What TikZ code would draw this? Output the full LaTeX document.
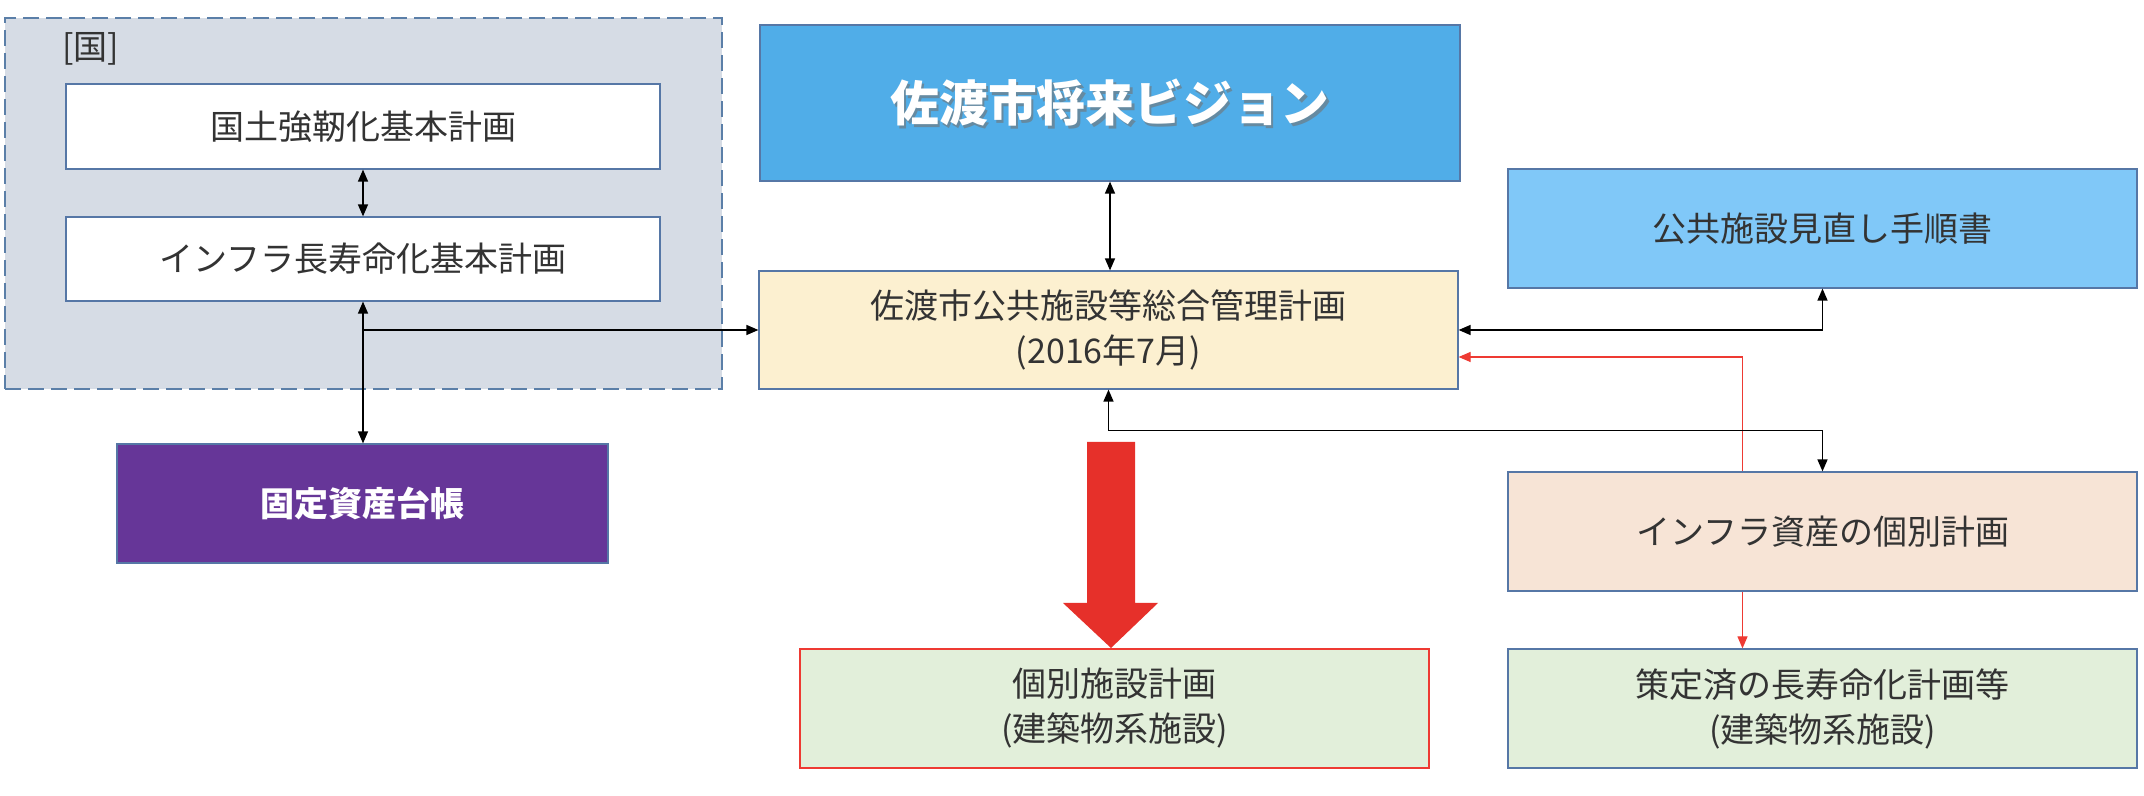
\documentclass[tikz,border=0pt]{standalone}
\usepackage{fontspec}
\newfontfamily\jp{Noto Sans CJK JP}
\usetikzlibrary{arrows.meta,calc}
\definecolor{grpfill}{HTML}{D6DCE5}
\definecolor{grpline}{HTML}{5B7FA8}
\definecolor{boxline}{HTML}{5677A6}
\definecolor{txt}{HTML}{333333}
\definecolor{visionfill}{HTML}{50ADE8}
\definecolor{planfill}{HTML}{FCF0D0}
\definecolor{tejunfill}{HTML}{80C8F8}
\definecolor{infrafill}{HTML}{F7E4D6}
\definecolor{greenfill}{HTML}{E2EFDA}
\definecolor{purplefill}{HTML}{663698}
\definecolor{bigred}{HTML}{E6302A}
\definecolor{thinred}{HTML}{EE3A33}
\begin{document}
\begin{tikzpicture}[x=0.5pt,y=-0.5pt,
  font=\jp\fontsize{17pt}{22.5pt}\selectfont,
  >={Triangle[length=6pt,width=5pt]},
  box/.style={draw=boxline, line width=0.6pt, inner sep=0pt, text=txt, align=center},
  widebox/.style={box, minimum width=314.5pt, minimum height=59.5pt},
  grpbox/.style={draw=grpline, fill=grpfill, line width=0.7pt, dash pattern=on 8pt off 3.5pt, inner sep=0pt},
  conn/.style={line width=0.7pt, draw=black, <->},
  conn1/.style={line width=0.7pt, draw=black, ->},
  redconn/.style={line width=0.6pt, draw=thinred, <->, >={Triangle[length=6pt,width=5pt]}},
]
\useasboundingbox (0,0) rectangle (2144,796);

% group [国]
\node[grpbox, minimum width=358.5pt, minimum height=185.5pt] (grp) at (363.5,203.5) {};
\node[anchor=west, text=txt, inner sep=0pt] (kuni) at (62,49) {[国]};
\node[box, fill=white, minimum width=297pt, minimum height=42.5pt] (box1) at (363,126.5) {国土強靭化基本計画};
\node[box, fill=white, minimum width=297pt, minimum height=42pt] (box2) at (363,259) {インフラ長寿命化基本計画};

% purple
\node[box, draw=boxline, fill=purplefill, text=white, font=\jp\bfseries\fontsize{17pt}{22.5pt}\selectfont,
      minimum width=245.5pt, minimum height=59.5pt] (daicho) at (362.5,503.5) {固定資産台帳};

% vision
\node[box, fill=visionfill, minimum width=350pt, minimum height=78pt] (vision) at (1110,103) {};
\node[text=black!55, opacity=0.6, font=\jp\bfseries\fontsize{24.4pt}{28pt}\selectfont] (vshadow) at ([shift={(1.2pt,-1.2pt)}]vision.center) {佐渡市将来ビジョン};
\node[text=white, font=\jp\bfseries\fontsize{24.4pt}{28pt}\selectfont] (vtext) at (vision.center) {佐渡市将来ビジョン};

% plan
\node[box, fill=planfill, minimum width=349.5pt, minimum height=59pt] (plan) at (1108.5,330) {佐渡市公共施設等総合管理計画\\(2016年7月)};

% right column
\node[widebox, fill=tejunfill] (tejun) at (1822.5,228.5) {公共施設見直し手順書};
\node[widebox, fill=greenfill] (sakutei) at (1822.5,708.5) {策定済の長寿命化計画等\\(建築物系施設)};

% red thin connector (behind infra box)
\draw[redconn] ([yshift=-13.5pt]plan.east) -| ([xshift=-40pt]sakutei.north);

\node[widebox, fill=infrafill] (infra) at (1822.5,531.5) {インフラ資産の個別計画};

% individual facilities
\node[box, draw=thinred, fill=greenfill, minimum width=314.5pt, minimum height=59.5pt] (kobetsu) at (1114.5,708.5) {個別施設計画\\(建築物系施設)};

% big red arrow
\fill[bigred] (1087,442) -- (1135,442) -- (1135,603) -- (1158,603) -- (1111,648) -- (1063,603) -- (1087,603) -- cycle;

% connectors
\draw[conn] (box1.south) -- (box2.north);
\draw[conn] (box2.south) -- (box2.south |- daicho.north);
\coordinate (j1) at (box2.south |- plan.west);
\draw[conn1] (j1) -- (plan.west);
\draw[conn] (vision.south) -- (vision.south |- plan.north);
\draw[conn] (plan.east) -| (tejun.south);
\draw[conn] (plan.south) -- ++(0,41) -| (infra.north);
\end{tikzpicture}
\end{document}
